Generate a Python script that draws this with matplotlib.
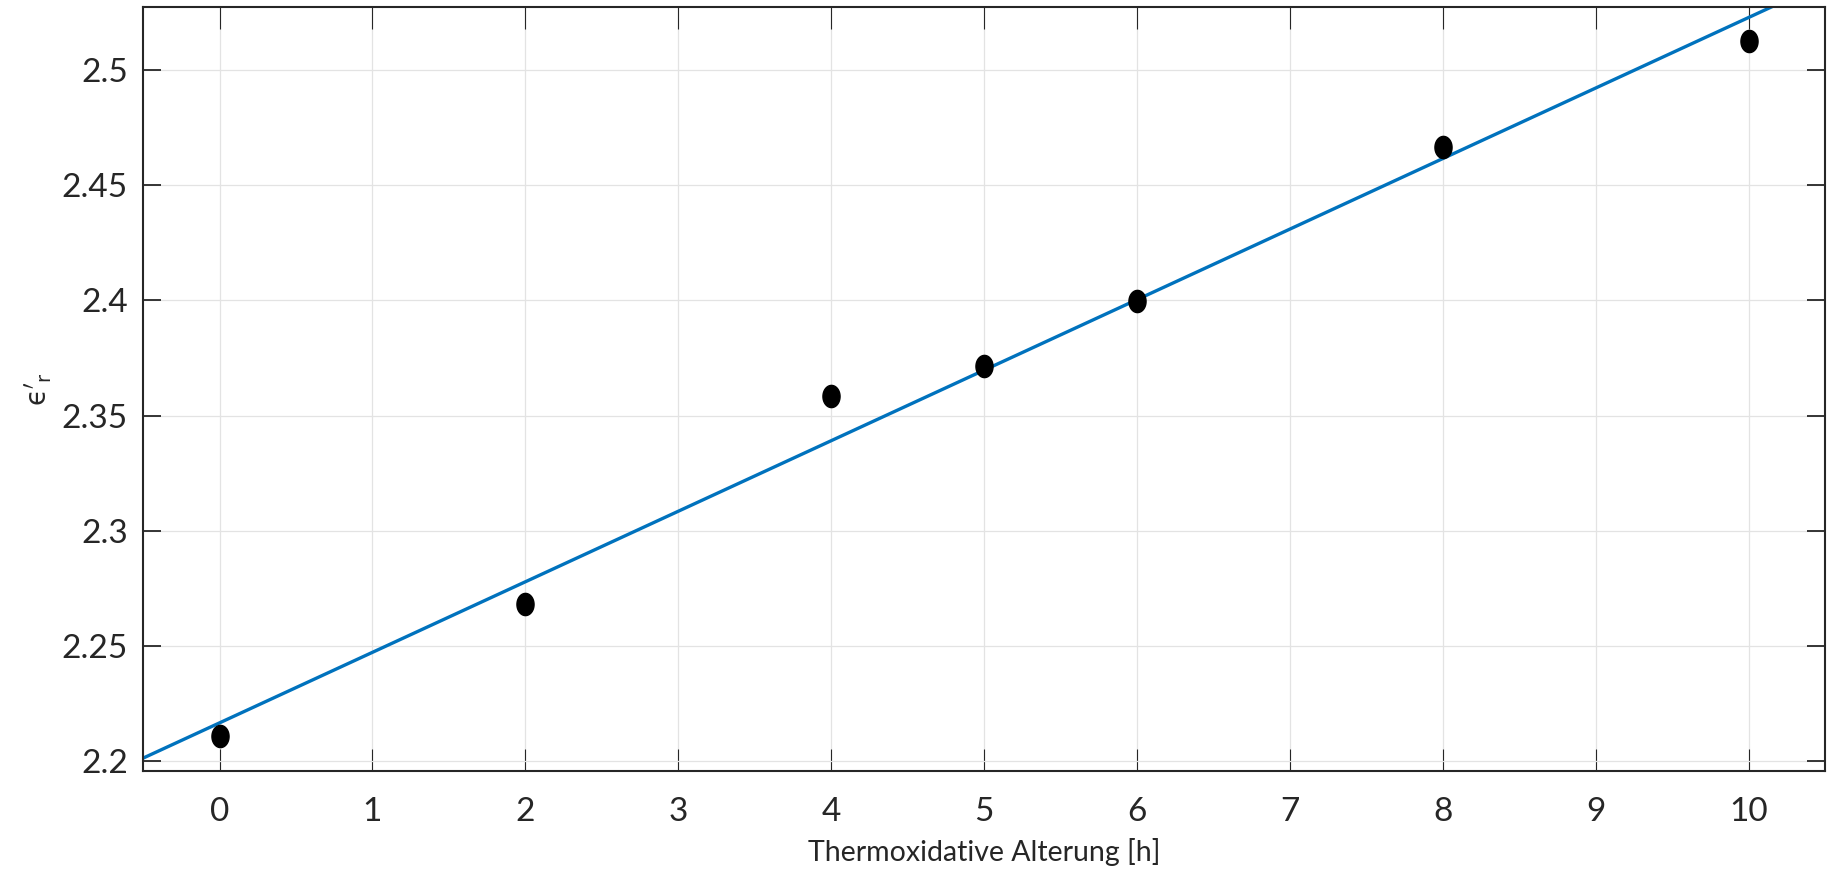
import numpy as np
import matplotlib
matplotlib.use("Agg")
import matplotlib.pyplot as plt
from matplotlib.path import Path

# measured values
aging_h = [0, 2, 4, 5, 6, 8, 10]
eps_r = [2.2111, 2.2684, 2.3586, 2.3713, 2.3997, 2.4665, 2.5123]

x_ticks = [0, 1, 2, 3, 4, 5, 6, 7, 8, 9, 10]
y_ticks = [2.2, 2.25, 2.3, 2.35, 2.4, 2.45, 2.5]
y_ticklabels = ["2.2", "2.25", "2.3", "2.35", "2.4", "2.45", "2.5"]

plt.rcParams['font.family'] = ['Lato', 'DejaVu Sans']
plt.rcParams['mathtext.fontset'] = 'dejavusans'

# linear fit through the points
slope, icpt = np.polyfit(aging_h, eps_r, 1)
xfit = np.array([-0.5, 10.5])

# marker looks squeezed horizontally in the original
t = np.linspace(0, 2 * np.pi, 60)
ellipse = Path(np.column_stack([0.77 * np.cos(t), np.sin(t)]), closed=True)

fig = plt.figure(figsize=(18.32, 8.81), dpi=100)
ax = fig.add_axes([0.0781, 0.1252, 0.9181, 0.8663])

ax.plot(xfit, slope * xfit + icpt, color='#0072BD', lw=2.4, zorder=2)
ax.plot(aging_h, eps_r, linestyle='none', marker=ellipse, markersize=16,
        color='black', zorder=3)

ax.set_xlim(-0.5, 10.5)
ax.set_ylim(2.196, 2.527)
ax.set_xticks(x_ticks)
ax.set_yticks(y_ticks)
ax.set_yticklabels(y_ticklabels)

ax.grid(True, color='#e3e3e3', lw=0.9)
ax.set_axisbelow(True)

ax.tick_params(axis='x', direction='in', length=15.5, width=0.8, top=True,
               pad=19, labelsize=24, colors='#262626')
ax.tick_params(axis='y', direction='in', length=13, width=1.3, right=True,
               pad=11, labelsize=24, colors='#262626')
for s in ax.spines.values():
    s.set_linewidth(1.5)
    s.set_color('#262626')

ax.set_xlabel('Thermoxidative Alterung [h]', fontsize=20.5, color='#262626', labelpad=8)
ax.set_ylabel(r"$\mathrm{ϵ}'_{\mathrm{r}}$", fontsize=20, color='#262626')
ax.yaxis.set_label_coords(-0.053, 0.5)

fig.savefig('out.png', dpi=100)
